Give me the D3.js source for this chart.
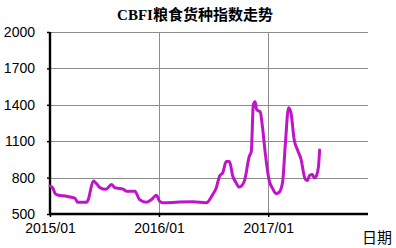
<!DOCTYPE html>
<html>
<head>
<meta charset="utf-8">
<script src="https://cdn.jsdelivr.net/npm/d3@7"></script>
<style>
  body { margin: 0; background: #fff; }
  svg { display: block; }
</style>
</head>
<body>
<svg id="chart" width="396" height="248"></svg>
<script>
// CBFI 粮食货种指数，读图估计
const dates = [
  "2015-01-01", "2015-01-10", "2015-01-18", "2015-01-29", "2015-02-26",
  "2015-03-14", "2015-03-26", "2015-04-03", "2015-05-04", "2015-05-09",
  "2015-05-26", "2015-06-06", "2015-06-17", "2015-07-07", "2015-07-26",
  "2015-08-06", "2015-09-03", "2015-09-14", "2015-10-12", "2015-10-28",
  "2015-11-20", "2015-12-07", "2015-12-23", "2016-01-03", "2016-01-14",
  "2016-03-10", "2016-04-23", "2016-06-07", "2016-06-29", "2016-07-11",
  "2016-07-22", "2016-08-02", "2016-08-13", "2016-08-24", "2016-09-04",
  "2016-09-15", "2016-09-26", "2016-10-13", "2016-10-30", "2016-11-05",
  "2016-11-12", "2016-11-18", "2016-11-23", "2016-12-05", "2016-12-13",
  "2016-12-22", "2017-01-04", "2017-01-16", "2017-01-27", "2017-02-07",
  "2017-02-18", "2017-02-27", "2017-03-10", "2017-03-18", "2017-03-29",
  "2017-04-09", "2017-04-20", "2017-05-05", "2017-05-12", "2017-05-20",
  "2017-05-29", "2017-06-04", "2017-06-12", "2017-06-18", "2017-06-22",
];
const values = [
  730, 717, 669, 655, 647,
  638, 630, 597, 597, 619,
  772, 750, 717, 703, 744,
  717, 705, 688, 688, 619,
  597, 619, 655, 605, 592,
  598, 600, 592, 661, 717,
  813, 842, 933, 933, 813,
  758, 722, 772, 980, 1013,
  1402, 1425, 1361, 1341, 1208,
  1000, 777, 708, 667, 680,
  763, 1069, 1375, 1333, 1110,
  1027, 958, 786, 777, 819,
  825, 797, 819, 888, 1027,
];
const yTicks = [500, 800, 1100, 1400, 1700, 2000];
const xTicks = ["2015-01-01", "2016-01-01", "2017-01-01"];
const xDomain = ["2015-01-01", "2017-12-01"];

const parse = d3.timeParse("%Y-%m-%d");
const fmt = d3.timeFormat("%Y/%m");
const series = dates.map((d, i) => ({ date: parse(d), value: values[i] }));

const svg = d3.select("#chart");
const margin = { left: 50, right: 28, top: 32, bottom: 34 };
const width = 396, height = 248;

const x = d3.scaleTime()
  .domain(xDomain.map(parse))
  .range([margin.left, width - margin.right]);
const y = d3.scaleLinear()
  .domain([500, 2000])
  .range([height - margin.bottom, margin.top]);

// 网格线
svg.append("g")
  .selectAll("line")
  .data(yTicks.slice(1))
  .join("line")
  .attr("x1", margin.left).attr("x2", width - margin.right)
  .attr("y1", (d) => Math.round(y(d)) + 0.5).attr("y2", (d) => Math.round(y(d)) + 0.5)
  .attr("stroke", "#8c8c8c");
svg.append("g")
  .selectAll("line")
  .data(xTicks.slice(1).map(parse))
  .join("line")
  .attr("x1", (d) => Math.round(x(d)) + 0.5).attr("x2", (d) => Math.round(x(d)) + 0.5)
  .attr("y1", margin.top).attr("y2", height - margin.bottom)
  .attr("stroke", "#8c8c8c");

// 坐标轴
const yAxis = svg.append("g")
  .attr("transform", `translate(${margin.left},0)`)
  .call(d3.axisLeft(y).tickValues(yTicks).tickFormat(d3.format("d")).tickSize(3).tickPadding(12));
const xAxis = svg.append("g")
  .attr("transform", `translate(0,${height - margin.bottom})`)
  .call(d3.axisBottom(x).tickValues(xTicks.map(parse)).tickFormat(fmt).tickSize(3).tickPadding(6));

[yAxis, xAxis].forEach((g) => {
  g.select(".domain").attr("stroke", "#000").attr("stroke-width", 2.4);
  g.selectAll(".tick line").attr("stroke", "#000").attr("stroke-width", 1.5);
  g.selectAll("text")
    .attr("fill", "#000")
    .style("font-family", "Liberation Sans, Arial, sans-serif")
    .style("font-size", "14px");
});
yAxis.select(".domain").attr("d", `M0,${y(500) + 1}V${y(2000)}`);
xAxis.select(".domain").attr("d", `M${margin.left - 1},0H${width - margin.right}`);

// 折线
const line = d3.line()
  .x((d) => x(d.date))
  .y((d) => y(d.value))
  .curve(d3.curveMonotoneX);

svg.append("path")
  .datum(series)
  .attr("fill", "none")
  .attr("stroke", "#bf14c8")
  .attr("stroke-width", 3)
  .attr("stroke-linejoin", "round")
  .attr("stroke-linecap", "round")
  .attr("d", line);

// 标题
svg.append("text")
  .attr("x", 195)
  .attr("y", 20)
  .attr("text-anchor", "middle")
  .style("font-family", "Liberation Serif, Noto Sans CJK SC, serif")
  .style("font-weight", "bold")
  .style("font-size", "15px")
  .text("CBFI粮食货种指数走势");

svg.append("text")
  .attr("x", 362)
  .attr("y", 243)
  .style("font-family", "Noto Sans CJK SC, sans-serif")
  .style("font-size", "15px")
  .text("日期");
</script>
</body>
</html>
